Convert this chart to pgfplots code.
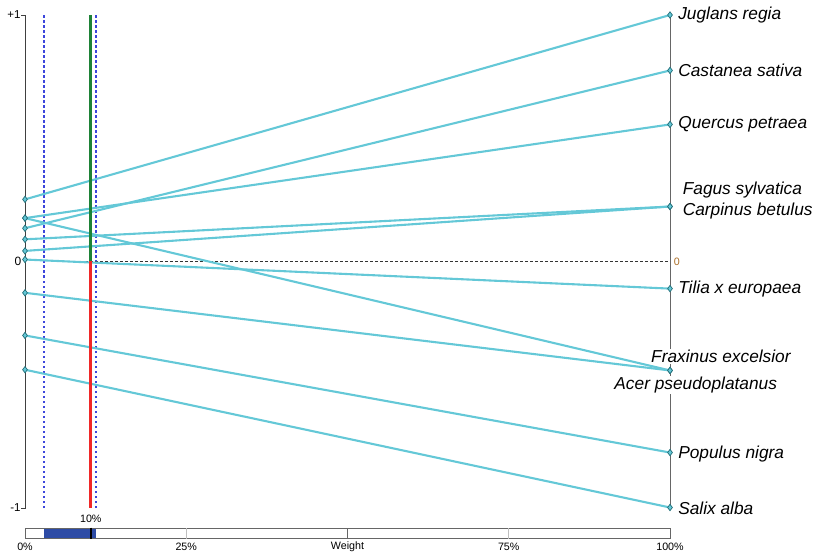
\documentclass[border=0pt]{standalone}
\usepackage{fontspec}
\setmainfont{Liberation Sans}
\usepackage{pgfplots}
\pgfplotsset{compat=1.18}

\definecolor{lineC}{RGB}{100,200,215}
\definecolor{markC}{RGB}{35,110,120}
\definecolor{goodC}{RGB}{30,130,55}
\definecolor{badC}{RGB}{240,40,40}
\definecolor{intervalblue}{RGB}{60,70,220}
\definecolor{barC}{RGB}{45,75,165}
\definecolor{zeroC}{RGB}{170,110,40}

\newcommand{\tickfont}{\fontsize{10.7}{12}\selectfont}
\newcommand{\namefont}{\fontsize{17.3}{20}\selectfont\itshape}

\begin{document}
\begin{tikzpicture}[x=1pt,y=1pt]
\useasboundingbox (0,0) rectangle (813,552);
\begin{axis}[
  at={(25pt,44pt)}, anchor=south west,
  scale only axis, width=645pt, height=493pt,
  xmin=0, xmax=100, ymin=-1, ymax=1,
  axis lines=none, clip=false,
  flow/.style={
    draw=lineC, line width=2.1pt, solid,
    mark=diamond*, mark size=3.2pt,
    mark options={fill=lineC, draw=markC, line width=0.7pt, solid},
  },
]
% stability interval of the weight
\addplot[intervalblue, line width=1.7pt, dash pattern=on 2.5pt off 2.5pt, forget plot] coordinates {(2.9,-1) (2.9,1)};
\addplot[intervalblue, line width=1.7pt, dash pattern=on 2.5pt off 2.5pt, forget plot] coordinates {(11.0,-1) (11.0,1)};

% zero reference line
\draw[black!80, line width=0.9pt, dash pattern=on 2.5pt off 2.5pt] (axis cs:7.0,0) -- (axis cs:100,0);

% scales at 0% and 100%
\draw[black!75, line width=0.9pt] (axis cs:-0.6,1) -- (axis cs:0,1) -- (axis cs:0,-1) -- (axis cs:-0.6,-1);
\draw[black!60, line width=0.9pt] (axis cs:100,1) -- (axis cs:100,-1);

% net flows of each species at weight 0% and 100%
\addplot[flow] coordinates {(0,0.252) (100,1.000)};   % Juglans regia
\addplot[flow] coordinates {(0,0.135) (100,0.775)};   % Castanea sativa
\addplot[flow] coordinates {(0,0.176) (100,0.556)};   % Quercus petraea
\addplot[flow] coordinates {(0,0.090) (100,0.223)};   % Fagus sylvatica
\addplot[flow] coordinates {(0,0.043) (100,0.223)};   % Carpinus betulus
\addplot[flow] coordinates {(0,0.008) (100,-0.110)};  % Tilia x europaea
\addplot[flow] coordinates {(0,0.176) (100,-0.442)};  % Fraxinus excelsior
\addplot[flow] coordinates {(0,-0.127) (100,-0.442)}; % Acer pseudoplatanus
\addplot[flow] coordinates {(0,-0.300) (100,-0.775)}; % Populus nigra
\addplot[flow] coordinates {(0,-0.439) (100,-0.998)}; % Salix alba

% current weight
\draw[goodC, line width=3.2pt] (axis cs:10.2,0) -- (axis cs:10.2,1);
\draw[badC, line width=3.2pt] (axis cs:10.2,0) -- (axis cs:10.2,-1);

% scale labels
\node[anchor=east, inner sep=1pt, font=\fontsize{11.5}{13}\selectfont] at (axis cs:-0.5,1) {+1};
\node[anchor=east, inner sep=1pt, font=\fontsize{12}{14}\selectfont] at (axis cs:-0.4,0) {0};
\node[anchor=east, inner sep=1pt, font=\fontsize{11.5}{13}\selectfont] at (axis cs:-0.5,-1) {-1};
\node[anchor=west, inner sep=1pt, font=\tickfont, text=zeroC] at (axis cs:100.4,0) {0};

% species names
\node[anchor=west, inner sep=1pt, font=\namefont] at (axis cs:101.1,1.0) {Juglans regia};
\node[anchor=west, inner sep=1pt, font=\namefont] at (axis cs:101.1,0.775) {Castanea sativa};
\node[anchor=west, inner sep=1pt, font=\namefont] at (axis cs:101.1,0.556) {Quercus petraea};
\node[anchor=west, inner sep=1pt, font=\namefont] at (axis cs:101.8,0.288) {Fagus sylvatica};
\node[anchor=west, inner sep=1pt, font=\namefont] at (axis cs:101.8,0.203) {Carpinus betulus};
\node[anchor=west, inner sep=1pt, font=\namefont] at (axis cs:101.1,-0.11) {Tilia x europaea};
\node[anchor=west, inner sep=1pt, fill=white, font=\namefont] at (axis cs:96.9,-0.385) {Fraxinus excelsior};
\node[anchor=west, inner sep=1pt, fill=white, font=\namefont] at (axis cs:91.2,-0.500) {Acer pseudoplatanus};
\node[anchor=west, inner sep=1pt, font=\namefont] at (axis cs:101.1,-0.780) {Populus nigra};
\node[anchor=west, inner sep=1pt, font=\namefont] at (axis cs:101.1,-1.0) {Salix alba};

% weight slider
\node[inner sep=1pt, font=\tickfont] at (axis cs:10.2,-1.045) {10\%};
\draw[black!60, line width=0.8pt, fill=white] (axis cs:0,-1.083) rectangle (axis cs:100,-1.124);
\fill[barC] (axis cs:2.9,-1.085) rectangle (axis cs:11.0,-1.122);
\draw[black!25, line width=0.8pt] (axis cs:25,-1.083) -- (axis cs:25,-1.124);
\draw[black!60, line width=0.8pt] (axis cs:50,-1.083) -- (axis cs:50,-1.124);
\draw[black!25, line width=0.8pt] (axis cs:75,-1.083) -- (axis cs:75,-1.124);
\draw[black, line width=1.6pt] (axis cs:10.2,-1.080) -- (axis cs:10.2,-1.127);
\node[inner sep=1pt, font=\tickfont] at (axis cs:0,-1.158) {0\%};
\node[inner sep=1pt, font=\tickfont] at (axis cs:25,-1.158) {25\%};
\node[inner sep=1pt, font=\tickfont] at (axis cs:50,-1.158) {Weight};
\node[inner sep=1pt, font=\tickfont] at (axis cs:75,-1.158) {75\%};
\node[inner sep=1pt, font=\tickfont] at (axis cs:100,-1.158) {100\%};
\end{axis}
\end{tikzpicture}
\end{document}
